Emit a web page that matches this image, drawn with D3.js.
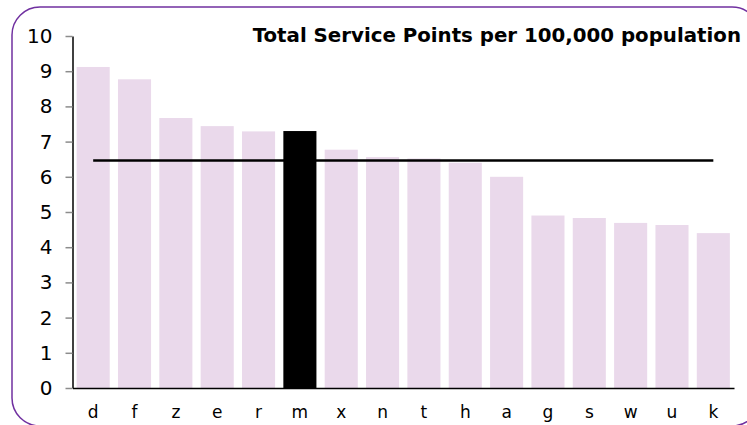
<!DOCTYPE html>
<html>
<head>
<meta charset="utf-8">
<script src="https://cdn.jsdelivr.net/npm/d3@7"></script>
<style>
  body { margin: 0; background: #fff; }
  svg text { font-family: Verdana, "DejaVu Sans", sans-serif; fill: #000; }
</style>
</head>
<body>
<div id="chart"></div>
<script>
const categories = ['d', 'f', 'z', 'e', 'r', 'm', 'x', 'n', 't', 'h', 'a', 'g', 's', 'w', 'u', 'k'];
const values = [9.12, 8.77, 7.67, 7.44, 7.29, 7.30, 6.77, 6.56, 6.52, 6.40, 6.0, 4.90, 4.83, 4.69, 4.63, 4.40];
const average = 6.46;
const highlight = 'm';
const yTicks = [0, 1, 2, 3, 4, 5, 6, 7, 8, 9, 10];
const title = 'Total Service Points per 100,000 population';

const width = 747, height = 425;
const svg = d3.select('#chart').append('svg')
  .attr('width', width)
  .attr('height', height);

// rounded frame, runs past the right/bottom edges
svg.append('rect')
  .attr('x', 12).attr('y', 7)
  .attr('width', 748).attr('height', 419)
  .attr('rx', 28).attr('ry', 28)
  .attr('fill', 'none')
  .attr('stroke', '#7030a0')
  .attr('stroke-width', 1.5);

const x = d3.scaleBand()
  .domain(categories)
  .range([72.5, 734])
  .paddingInner(0.2)
  .paddingOuter(0.1);

const y = d3.scaleLinear()
  .domain([0, 10])
  .range([388, 36]);

svg.append('g')
  .selectAll('rect')
  .data(categories)
  .join('rect')
  .attr('x', d => x(d))
  .attr('y', (d, i) => y(values[i]))
  .attr('width', x.bandwidth())
  .attr('height', (d, i) => y(0) - y(values[i]))
  .attr('fill', d => d === highlight ? '#000' : '#ead9eb');

// average line
svg.append('line')
  .attr('x1', x(categories[0]) + x.bandwidth() / 2)
  .attr('x2', x(categories[categories.length - 1]) + x.bandwidth() / 2)
  .attr('y1', y(average))
  .attr('y2', y(average))
  .attr('stroke', '#000')
  .attr('stroke-width', 2.5);

const yAxis = svg.append('g')
  .attr('transform', 'translate(72.5,0)')
  .call(d3.axisLeft(y).tickValues(yTicks).tickSize(7).tickSizeOuter(0).tickPadding(13));
yAxis.select('.domain').attr('stroke', '#000').attr('stroke-width', 1.5);
yAxis.selectAll('.tick line').attr('stroke', '#8c8c8c').attr('stroke-width', 1.5);
yAxis.selectAll('.tick text').attr('font-size', 20).attr('font-family', null);

const xAxis = svg.append('g')
  .attr('transform', 'translate(0,388)')
  .call(d3.axisBottom(x).tickSize(0).tickSizeOuter(0).tickPadding(18));
xAxis.select('.domain').attr('stroke', '#000').attr('stroke-width', 1.5);
xAxis.selectAll('.tick text').attr('font-size', 17).attr('font-family', null);

svg.append('text')
  .attr('x', 741)
  .attr('y', 42)
  .attr('text-anchor', 'end')
  .attr('font-size', 19.8)
  .attr('font-weight', 'bold')
  .text(title);
</script>
</body>
</html>
